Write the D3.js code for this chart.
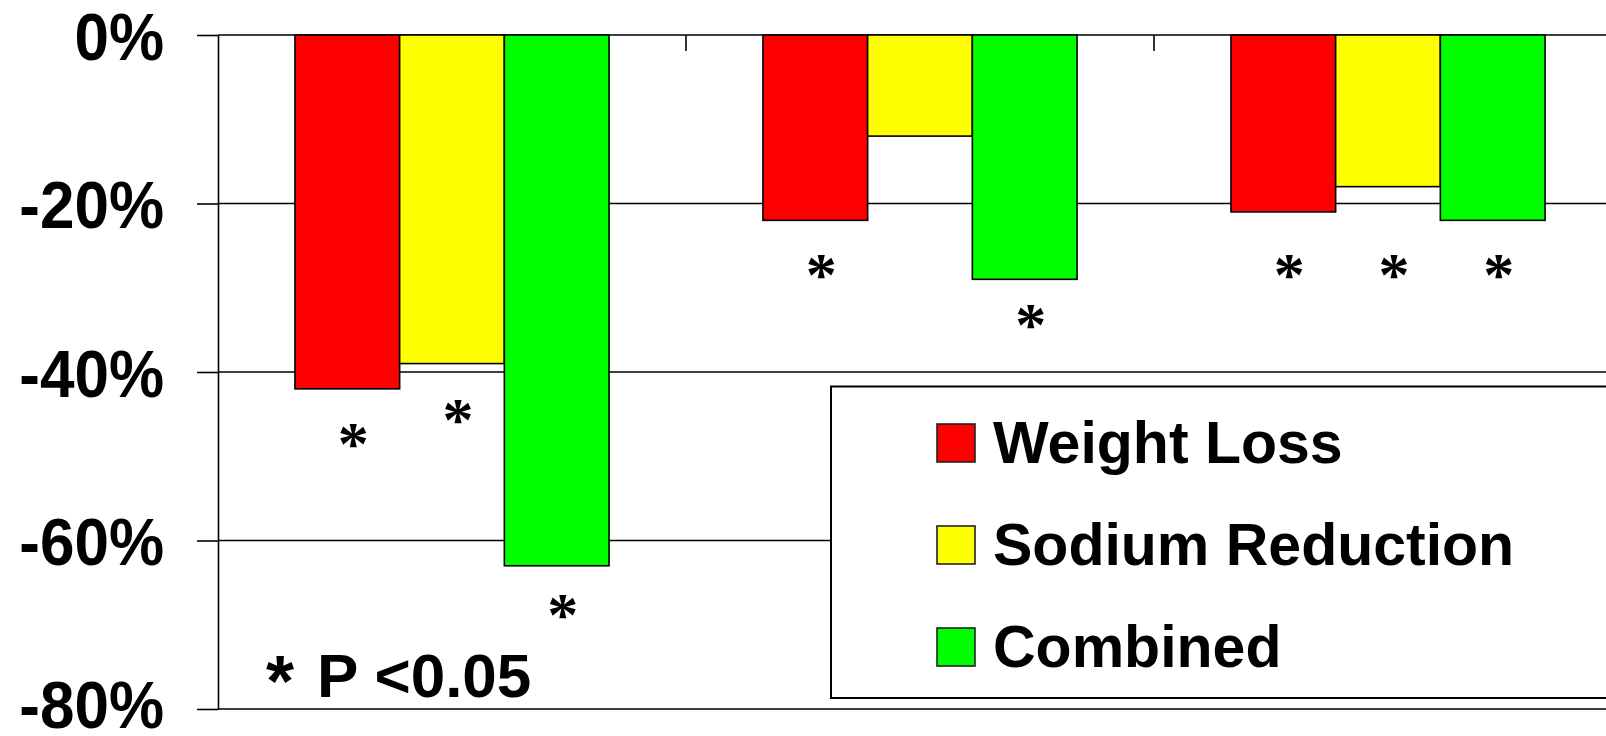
<!DOCTYPE html>
<html>
<head>
<meta charset="utf-8">
<script src="https://cdn.jsdelivr.net/npm/d3@7"></script>
<style>
  html, body { margin: 0; padding: 0; background: #fff; }
  svg { display: block; }
</style>
</head>
<body>
<script>
// ---- Data ----
const categories = ["Group 1", "Group 2", "Group 3"];
const series = ["Weight Loss", "Sodium Reduction", "Combined"];
const seriesColors = ["#FF0000", "#FFFF00", "#00FF00"];
const weightLoss = [-42, -22, -21];
const sodiumReduction = [-39, -12, -18];
const combined = [-63, -29, -22];
// level (in % units) at which the significance asterisk sits; null = not significant
const weightLossStar = [-47.5, -27.4, -27.4];
const sodiumReductionStar = [-44.6, null, -27.4];
const combinedStar = [-67.7, -33.3, -27.4];
const yTicks = [0, -20, -40, -60, -80];
const noteText = "P <0.05";

const seriesValues = [weightLoss, sodiumReduction, combined];
const seriesStars = [weightLossStar, sodiumReductionStar, combinedStar];

// ---- Layout ----
const W = 1606, H = 736;
const plotLeft = 218, plotRight = 1622, plotTop = 35, plotBottom = 709;
const sans = "'Liberation Sans', Arial, Helvetica, sans-serif";
const serif = "'Liberation Serif', 'Times New Roman', serif";

const svg = d3.select("body").append("svg").attr("width", W).attr("height", H);

const x0 = d3.scaleBand().domain(categories).range([plotLeft, plotRight]).paddingInner(0).paddingOuter(0);
const x1 = d3.scaleBand().domain(series).range([0, x0.bandwidth()]).paddingInner(0).paddingOuter(0.735);
const y = d3.scaleLinear().domain([-80, 0]).range([plotBottom, plotTop]);
const color = d3.scaleOrdinal().domain(series).range(seriesColors);

// gridlines
svg.append("g").selectAll("line").data(yTicks).join("line")
  .attr("x1", plotLeft).attr("x2", plotRight)
  .attr("y1", d => y(d)).attr("y2", d => y(d))
  .attr("stroke", "#000").attr("stroke-width", 1.6);

// bars
const rows = [];
categories.forEach((c, ci) => series.forEach((s, si) => {
  rows.push({ cat: c, ser: s, value: seriesValues[si][ci], star: seriesStars[si][ci] });
}));

svg.append("g").selectAll("rect").data(rows).join("rect")
  .attr("x", d => x0(d.cat) + x1(d.ser))
  .attr("y", d => y(0))
  .attr("width", x1.bandwidth())
  .attr("height", d => y(d.value) - y(0))
  .attr("fill", d => color(d.ser))
  .attr("stroke", "#000").attr("stroke-width", 1.6);

// y axis
const yAxis = d3.axisLeft(y).tickValues(yTicks).tickSize(21).tickSizeOuter(0).tickPadding(33)
  .tickFormat(d => (d < 0 ? "-" + Math.abs(d) : d) + "%");
const gy = svg.append("g").attr("transform", `translate(${plotLeft},0)`).call(yAxis);
gy.select(".domain").attr("stroke", "#000").attr("stroke-width", 1.6);
gy.selectAll(".tick line").attr("stroke", "#000").attr("stroke-width", 1.6);
gy.selectAll(".tick text").attr("font-family", sans).attr("font-weight", "bold")
  .attr("font-size", 62).attr("fill", "#000")
  .attr("dy", d => d === -80 ? "0.28em" : "0.36em")
  .attr("transform", "scale(1,1.08)");

// top category axis ticks (at band boundaries)
svg.append("g").selectAll("line").data(categories.slice(1)).join("line")
  .attr("x1", d => x0(d)).attr("x2", d => x0(d))
  .attr("y1", y(0)).attr("y2", y(0) + 16)
  .attr("stroke", "#000").attr("stroke-width", 1.6);

// significance asterisks
svg.append("g").selectAll("text").data(rows.filter(d => d.star !== null)).join("text")
  .attr("x", d => x0(d.cat) + x1(d.ser) + x1.bandwidth() / 2 + 6)
  .attr("y", d => y(d.star))
  .attr("dy", "0.47em")
  .attr("text-anchor", "middle")
  .attr("font-family", serif).attr("font-weight", "bold").attr("font-size", 62).attr("fill", "#000")
  .text("*");

// legend
const leg = svg.append("g");
leg.append("rect").attr("x", 831).attr("y", 386.5).attr("width", 820).attr("height", 311.5)
  .attr("fill", "#fff").attr("stroke", "#000").attr("stroke-width", 2);
const li = leg.selectAll("g.item").data(series).join("g").attr("class", "item")
  .attr("transform", (d, i) => `translate(0,${463 + i * 102})`);
li.append("rect").attr("x", 937).attr("y", -39).attr("width", 38).attr("height", 38)
  .attr("fill", d => color(d)).attr("stroke", "#222").attr("stroke-width", 1.6);
li.append("text").attr("x", 993).attr("y", 0)
  .attr("font-family", sans).attr("font-weight", "bold").attr("font-size", 59).attr("fill", "#000")
  .text(d => d);

// footnote
svg.append("text").attr("x", 280).attr("y", 697).attr("text-anchor", "middle")
  .attr("font-family", sans).attr("font-weight", "bold").attr("font-size", 72).attr("fill", "#000")
  .attr("dy", "0.12em").text("*");
svg.append("text").attr("x", 317).attr("y", 697)
  .attr("font-family", sans).attr("font-weight", "bold").attr("font-size", 62).attr("fill", "#000")
  .text(noteText);
</script>
</body>
</html>
